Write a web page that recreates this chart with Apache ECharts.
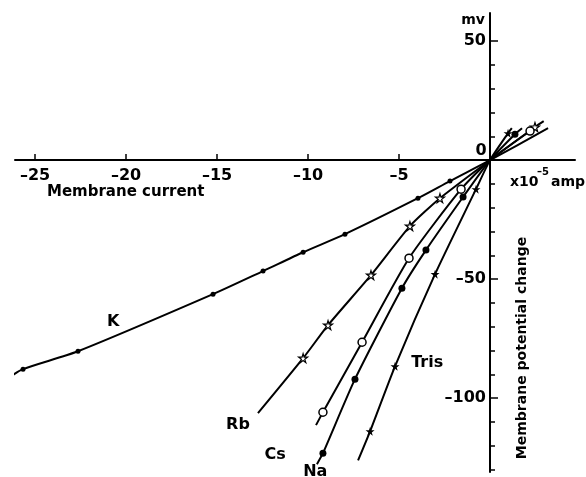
<!DOCTYPE html>
<html>
<head>
<meta charset="utf-8">
<script src="https://cdn.jsdelivr.net/npm/echarts@6/dist/echarts.min.js"></script>
<style>html,body{margin:0;padding:0;background:#fff}#c{width:586px;height:477px}</style>
</head>
<body>
<div id="c"></div>
<script>
// Membrane current (x10^-5 amp) vs membrane potential change (mV)
const xTicks = [-25, -20, -15, -10, -5];
const yMinorTicks = [40, 30, 20, 10, -10, -20, -30, -40, -60, -70, -80, -90, -110, -120, -130];
const yMajorTicks = [50, -50, -100];

// K : line vertices and measured points (small dots)
const kLineX = [-26.4, -25.66, -22.64, -15.22, -12.47, -10.27, -7.97, -3.96, -2.20, 0, 3.19];
const kLineY = [-91.2, -87.8, -80.3, -56.3, -46.6, -38.7, -31.1, -16.0, -8.8, 0, 13.4];
const kMarkX = [-25.66, -22.64, -15.22, -12.47, -10.27, -7.97, -3.96, -2.20];
const kMarkY = [-87.8, -80.3, -56.3, -46.6, -38.7, -31.1, -16.0, -8.8];

// Rb : open stars
const rbLineX = [-12.75, -10.27, -8.90, -6.54, -4.40, -2.75, 0, 2.47, 2.95];
const rbLineY = [-106.3, -83.2, -69.3, -48.3, -27.7, -16.0, 0, 13.9, 16.4];
const rbMarkX = [-10.27, -8.90, -6.54, -4.40, -2.75, 2.47];
const rbMarkY = [-83.2, -69.3, -48.3, -27.7, -16.0, 13.9];

// Cs : open circles
const csLineX = [-9.56, -9.18, -7.03, -4.45, -1.59, 0, 2.20, 2.64];
const csLineY = [-111.3, -105.9, -76.5, -41.2, -12.2, 0, 12.2, 14.3];
const csMarkX = [-9.18, -7.03, -4.45, -1.59, 2.20];
const csMarkY = [-105.9, -76.5, -41.2, -12.2, 12.2];

// Na : filled circles
const naLineX = [-9.51, -9.18, -7.42, -4.84, -3.52, -1.48, 0, 1.37, 1.76];
const naLineY = [-127.7, -123.1, -92.0, -53.8, -37.8, -15.5, 0, 10.9, 13.4];
const naMarkX = [-9.18, -7.42, -4.84, -3.52, -1.48, 1.37];
const naMarkY = [-123.1, -92.0, -53.8, -37.8, -15.5, 10.9];

// Tris : filled stars
const trisLineX = [-7.25, -6.59, -5.22, -3.02, -0.77, 0, 0.99, 1.20];
const trisLineY = [-126.1, -113.9, -86.6, -47.9, -12.2, 0, 11.3, 13.4];
const trisMarkX = [-6.59, -5.22, -3.02, -0.77, 0.99];
const trisMarkY = [-113.9, -86.6, -47.9, -12.2, 11.3];

// curve labels
const curveNames = ['K', 'Rb', 'Cs', 'Na', 'Tris'];
const curveLabelX = [-20.7, -13.85, -11.8, -9.6, -3.45];
const curveLabelY = [-68.0, -111.3, -124.0, -131.0, -85.0];

const FONT = 'DejaVu Sans';
const STAR = 'path://M50,0 L61,35 L98,35 L68,57 L79,91 L50,70 L21,91 L32,57 L2,35 L39,35 Z';
const zip = (a, b) => a.map((v, i) => [v, b[i]]);
const dash = v => String(v).replace('-', '\u2013');

function lineSeries(xs, ys, smooth) {
  return { type: 'line', data: zip(xs, ys), showSymbol: false, smooth: smooth, clip: false,
    lineStyle: { color: '#000', width: 2 }, z: 2, silent: true, animation: false };
}
function markSeries(xs, ys, symbol, size, fill, border) {
  return { type: 'scatter', data: zip(xs, ys), symbol: symbol, symbolSize: size,
    itemStyle: { color: fill, borderColor: '#000', borderWidth: border, opacity: 1 }, z: 5, silent: true, animation: false };
}

const chart = echarts.init(document.getElementById('c'), null, { renderer: 'canvas' });
chart.setOption({
  backgroundColor: '#fff',
  animation: false,
  grid: { left: 15, right: 11, top: 13, bottom: 5, containLabel: false, outerBoundsMode: 'none' },
  xAxis: {
    type: 'value', min: -26.1, max: 4.67, position: 'bottom',
    axisLine: { onZero: false, lineStyle: { color: '#000', width: 2 } },
    offset: -312,
    axisTick: { inside: true, length: 6, customValues: xTicks, lineStyle: { color: '#000', width: 1.5 } },
    axisLabel: { customValues: xTicks, margin: 8, hideOverlap: false, formatter: dash, color: '#000', fontFamily: FONT, fontSize: 16, fontWeight: 'bold' },
    splitLine: { show: false }
  },
  yAxis: [
    {
      type: 'value', min: -131, max: 61.8, position: 'left',
      axisLine: { onZero: false, lineStyle: { color: '#000', width: 2 } },
      offset: -475,
      axisTick: { inside: true, length: 5, customValues: yMinorTicks, lineStyle: { color: '#000', width: 1.5 } },
      axisLabel: { show: false },
      splitLine: { show: false }
    },
    {
      type: 'value', min: -131, max: 61.8, position: 'left',
      axisLine: { show: false, onZero: false },
      offset: -475,
      axisTick: { inside: true, length: 8, customValues: yMajorTicks, lineStyle: { color: '#000', width: 1.5 } },
      axisLabel: { customValues: yMajorTicks, margin: 4, hideOverlap: false, formatter: dash, color: '#000', fontFamily: FONT, fontSize: 16, fontWeight: 'bold' },
      splitLine: { show: false }
    }
  ],
  series: [
    lineSeries(kLineX, kLineY, 0.25),
    lineSeries(rbLineX, rbLineY, 0.2),
    lineSeries(csLineX, csLineY, 0.2),
    lineSeries(naLineX, naLineY, 0.2),
    lineSeries(trisLineX, trisLineY, 0.2),
    markSeries(kMarkX, kMarkY, 'circle', 5, '#000', 0),
    markSeries(rbMarkX, rbMarkY, STAR, 9, '#fff', 1.2),
    markSeries(csMarkX, csMarkY, 'circle', 8, '#fff', 1.5),
    markSeries(naMarkX, naMarkY, 'circle', 7, '#000', 0),
    markSeries(trisMarkX, trisMarkY, STAR, 9, '#000', 0),
    {
      type: 'scatter', data: zip(curveLabelX, curveLabelY).map((p, i) => ({ value: p, name: curveNames[i] })),
      symbolSize: 0, clip: false, silent: true, animation: false, z: 6,
      itemStyle: { color: '#000', opacity: 1 },
      label: { show: true, position: 'inside', formatter: p => p.name, color: '#000', opacity: 1, textBorderWidth: 0, fontFamily: FONT, fontSize: 16, fontWeight: 'bold' }
    }
  ],
  graphic: [
    { type: 'text', x: 481, y: 151, style: { text: '0', fill: '#000', font: 'bold 16px "DejaVu Sans"', align: 'center', verticalAlign: 'middle' } },
    { type: 'text', x: 473, y: 20, style: { text: 'mv', fill: '#000', font: 'bold 14px "DejaVu Sans"', align: 'center', verticalAlign: 'middle' } },
    { type: 'text', x: 510, y: 182, style: { text: 'x10', fill: '#000', font: 'bold 14px "DejaVu Sans"', align: 'left', verticalAlign: 'middle' } },
    { type: 'text', x: 537, y: 172, style: { text: '\u20135', fill: '#000', font: 'bold 10px "DejaVu Sans"', align: 'left', verticalAlign: 'middle' } },
    { type: 'text', x: 551, y: 182, style: { text: 'amp', fill: '#000', font: 'bold 14px "DejaVu Sans"', align: 'left', verticalAlign: 'middle' } },
    { type: 'text', x: 47, y: 192, style: { text: 'Membrane current', fill: '#000', font: 'bold 15px "DejaVu Sans"', align: 'left', verticalAlign: 'middle' } },
    { type: 'text', x: 522, y: 348, rotation: Math.PI / 2, style: { text: 'Membrane potential change', fill: '#000', font: 'bold 14px "DejaVu Sans"', align: 'center', verticalAlign: 'middle' } }
  ]
});
</script>
</body>
</html>
